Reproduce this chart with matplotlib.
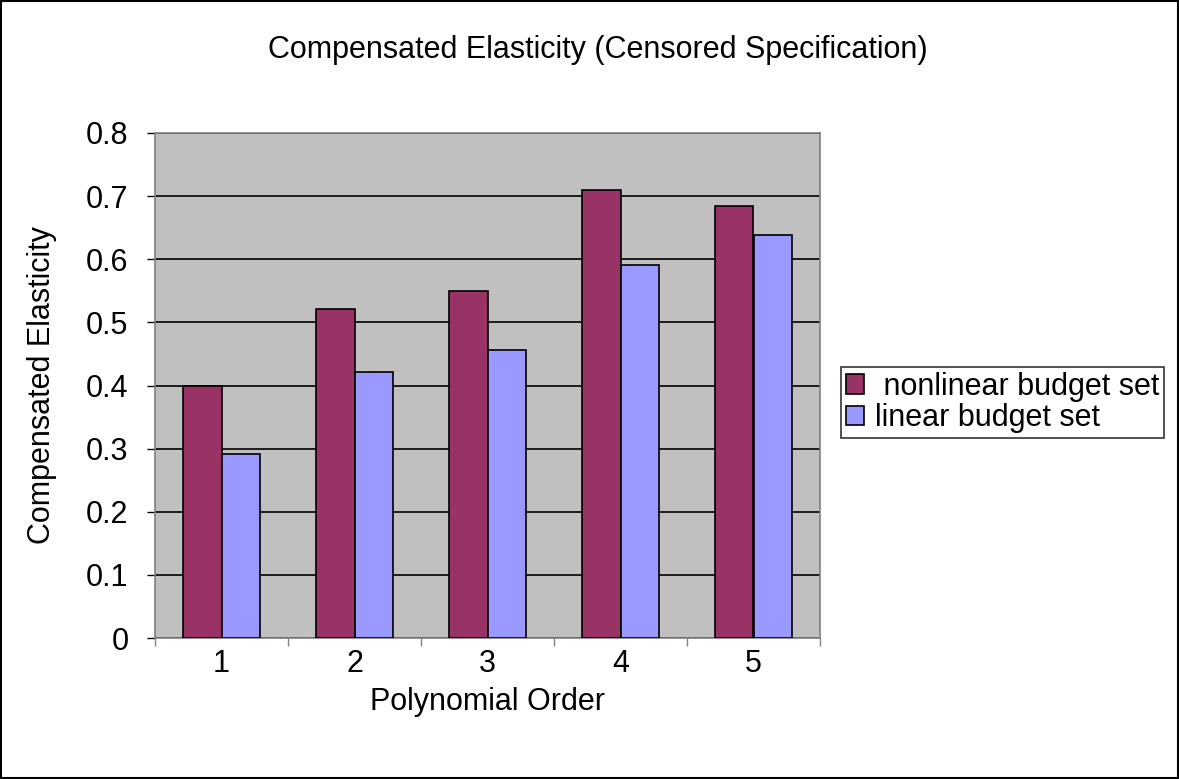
import matplotlib
matplotlib.use("Agg")
import matplotlib.pyplot as plt
import numpy as np
from matplotlib.patches import Rectangle

categories = ["1", "2", "3", "4", "5"]
nonlinear = [0.400, 0.521, 0.550, 0.709, 0.684]
linear = [0.292, 0.422, 0.457, 0.591, 0.639]
yticks = [0, 0.1, 0.2, 0.3, 0.4, 0.5, 0.6, 0.7, 0.8]
ytick_labels = ["0", "0.1", "0.2", "0.3", "0.4", "0.5", "0.6", "0.7", "0.8"]

plt.rcParams['font.family'] = ['Liberation Sans', 'DejaVu Sans']
fs = 22

fig = plt.figure(figsize=(11.79, 7.79), dpi=100)
ax = fig.add_axes([155/1179, 1-638/779, (820-155)/1179, (638-133)/779])
ax.set_facecolor('#c0c0c0')

x = np.arange(1, len(categories) + 1)
w = 0.287
ax.bar(x - w/2, nonlinear, width=w, color='#993366', edgecolor='black', linewidth=1.2,
       label=' nonlinear budget set', zorder=3)
ax.bar(x + w/2, linear, width=w, color='#9999ff', edgecolor='black', linewidth=1.2,
       label='linear budget set', zorder=3)

ax.set_xlim(0.5, 5.5)
ax.set_ylim(0, 0.8)
ax.set_yticks(yticks)
ax.set_yticklabels(ytick_labels, fontsize=fs)
ax.set_xticks(x)
ax.set_xticklabels(categories, fontsize=fs)
ax.set_xticks(np.arange(0.5, 5.6, 1.0), minor=True)
ax.tick_params(axis='x', which='major', length=0, pad=8)
ax.tick_params(axis='x', which='minor', length=6, width=1, color='#808080')
ax.tick_params(axis='y', which='major', length=6, width=1, color='black', pad=13)

ax.yaxis.grid(True, color='black', linewidth=1.2, zorder=1)
ax.set_axisbelow(True)
for s in ['top', 'right', 'left', 'bottom']:
    ax.spines[s].set_color('#808080')
    ax.spines[s].set_linewidth(1.2)

ax.set_xlabel('Polynomial Order', fontsize=fs, labelpad=6)
ax.set_ylabel('Compensated Elasticity', fontsize=fs, labelpad=21)
fig.text(598/1179, 1-50/779, 'Compensated Elasticity (Censored Specification)',
         fontsize=fs, ha='center', va='center')

leg = ax.legend(loc='upper left', bbox_to_anchor=(841/1179, 1-367/779),
                bbox_transform=fig.transFigure, fontsize=fs, frameon=True,
                fancybox=False, edgecolor='black', handlelength=0.6, handleheight=0.6,
                handletextpad=0.37, borderpad=0.15, labelspacing=0.05, borderaxespad=0)
leg.get_frame().set_linewidth(1.2)

fig.patches.append(Rectangle((0.001, 0.001), 0.998, 0.998, transform=fig.transFigure,
                             fill=False, edgecolor='black', linewidth=1.5))

fig.savefig('out.png', dpi=100)
